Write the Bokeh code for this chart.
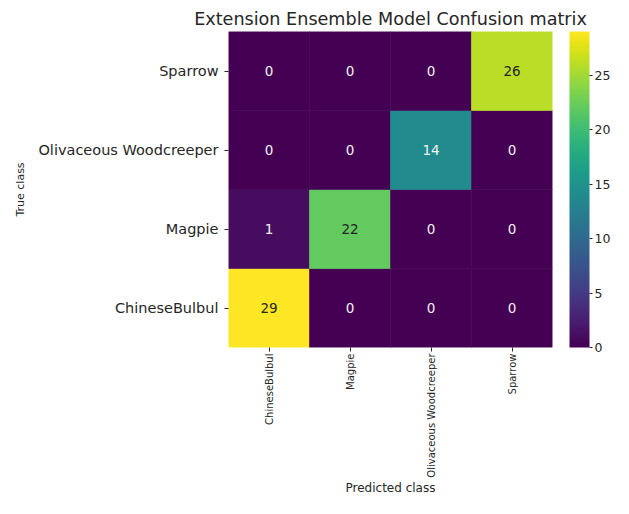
import math
from bokeh.plotting import figure
from bokeh.models import ColumnDataSource, LinearColorMapper, ColorBar, FixedTicker
from bokeh.palettes import Viridis256
from bokeh.transform import transform
from bokeh.core.properties import value
from bokeh.embed import file_html
from bokeh.resources import INLINE

# ---- data ----
classes = ["ChineseBulbul", "Magpie", "Olivaceous Woodcreeper", "Sparrow"]
true_chinesebulbul = [29, 0, 0, 0]
true_magpie = [1, 22, 0, 0]
true_olivaceous = [0, 0, 14, 0]
true_sparrow = [0, 0, 0, 26]
colorbar_ticks = [0, 5, 10, 15, 20, 25]
vmin, vmax = 0, 29

rows = [true_chinesebulbul, true_magpie, true_olivaceous, true_sparrow]
xs, ys, counts, labels, tcolors = [], [], [], [], []
for t, row in zip(classes, rows):
    for pcls, c in zip(classes, row):
        xs.append(pcls)
        ys.append(t)
        counts.append(c)
        labels.append(str(c))
        tcolors.append("#262626" if c >= 20 else "#f2f2f2")
src = ColumnDataSource(dict(pred=xs, true=ys, count=counts, label=labels, tcolor=tcolors))

FONT = "DejaVu Sans"
DARK = "#262626"

mapper = LinearColorMapper(palette=Viridis256, low=vmin, high=vmax)

p = figure(width=613, height=498, x_range=classes, y_range=classes,
           output_backend="svg", toolbar_location=None,
           min_border_left=228, min_border_right=58, min_border_top=31, min_border_bottom=151,
           title="Extension Ensemble Model Confusion matrix")
p.title.align = "center"
p.title.text_font = FONT
p.title.text_font_size = "17.6px"
p.title.text_font_style = "normal"
p.title.text_color = DARK
p.title.standoff = 6

p.rect(x="pred", y="true", width=1, height=1, source=src,
       fill_color=transform("count", mapper), line_color=transform("count", mapper), line_width=0.6)
p.text(x="pred", y="true", text="label", source=src, text_color="tcolor",
       text_align="center", text_baseline="middle",
       text_font=value(FONT), text_font_size=value("13.5px"))

p.outline_line_color = None
p.grid.grid_line_color = None
for ax in (p.xaxis[0], p.yaxis[0]):
    ax.axis_line_color = None
    ax.major_tick_line_color = DARK
    ax.major_tick_out = 4
    ax.major_tick_in = 0
    ax.minor_tick_line_color = None
    ax.major_label_text_font = FONT
    ax.major_label_text_color = DARK
    ax.axis_label_text_font = FONT
    ax.axis_label_text_color = DARK
    ax.axis_label_text_font_style = "normal"

p.xaxis.major_label_orientation = math.pi / 2
p.xaxis.major_label_standoff = 2
p.xaxis.major_label_text_font_size = "10px"
p.xaxis.axis_label = "Predicted class"
p.xaxis.axis_label_text_font_size = "12px"
p.xaxis.axis_label_standoff = 0

p.yaxis.major_label_standoff = 6
p.yaxis.major_label_text_font_size = "14.5px"
p.yaxis.axis_label = "True class"
p.yaxis.axis_label_text_font_size = "11px"
p.yaxis.axis_label_standoff = 8

cb = ColorBar(color_mapper=mapper, ticker=FixedTicker(ticks=colorbar_ticks),
              width=20, height="auto", padding=0, margin=0, location=(17, 0),
              major_tick_out=3, major_tick_in=0, major_tick_line_color=DARK,
              minor_tick_line_color=None, bar_line_color=None,
              border_line_color=None, background_fill_color=None,
              label_standoff=2, major_label_text_font=FONT,
              major_label_text_font_size="12.5px", major_label_text_color=DARK)
p.add_layout(cb, "right")

open("out.html", "w").write(file_html(p, INLINE))
